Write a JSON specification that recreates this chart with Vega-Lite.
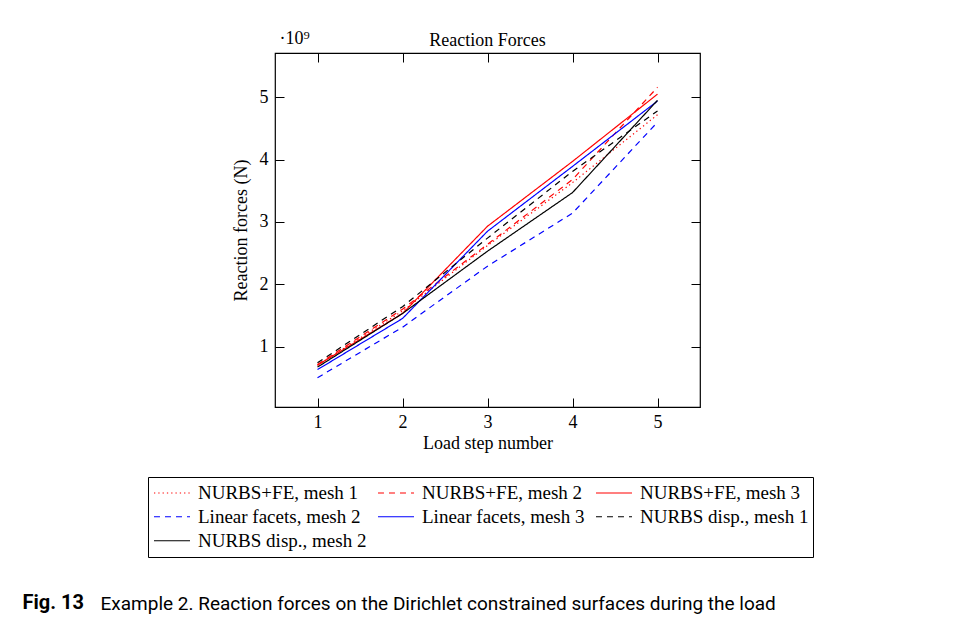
{
  "$schema": "https://vega.github.io/schema/vega-lite/v6.json",
  "width": 425,
  "height": 354,
  "autosize": {"type": "none"},
  "padding": {"left": 275, "top": 53, "right": 256, "bottom": 214},
  "background": "white",
  "title": {
    "text": "Reaction Forces",
    "frame": "group",
    "anchor": "middle",
    "font": "Liberation Serif",
    "fontSize": 18,
    "fontWeight": "normal",
    "color": "black",
    "offset": 6,
    "dy": 27
  },
  "config": {
    "view": {"stroke": "black", "strokeWidth": 1.2},
    "axis": {
      "labelFont": "Liberation Serif",
      "labelFontSize": 18,
      "labelColor": "black",
      "titleFont": "Liberation Serif",
      "titleFontSize": 18,
      "titleFontWeight": "normal",
      "titleColor": "black",
      "tickColor": "black",
      "tickWidth": 1,
      "domain": false,
      "grid": false
    },
    "legend": {
      "direction": "horizontal", "columns": 3, "strokeColor": "black", "padding": 4,
      "symbolType": "stroke", "symbolSize": 1300, "symbolStrokeWidth": 1.2, "symbolOffset": 1,
      "labelFont": "Liberation Serif", "labelFontSize": 19, "labelColor": "black", "labelLimit": 0,
      "columnPadding": 9, "rowPadding": 0, "clipHeight": 23.5, "labelOffset": 7
    }
  },
  "data": {
    "values": [
      {"step": 1, "series": "NURBS+FE, mesh 1", "force": 0.70},
      {"step": 2, "series": "NURBS+FE, mesh 1", "force": 1.57},
      {"step": 3, "series": "NURBS+FE, mesh 1", "force": 2.62},
      {"step": 4, "series": "NURBS+FE, mesh 1", "force": 3.63},
      {"step": 5, "series": "NURBS+FE, mesh 1", "force": 4.72},
      {"step": 1, "series": "NURBS+FE, mesh 2", "force": 0.71},
      {"step": 2, "series": "NURBS+FE, mesh 2", "force": 1.60},
      {"step": 3, "series": "NURBS+FE, mesh 2", "force": 2.64},
      {"step": 4, "series": "NURBS+FE, mesh 2", "force": 3.68},
      {"step": 5, "series": "NURBS+FE, mesh 2", "force": 5.16},
      {"step": 1, "series": "NURBS+FE, mesh 3", "force": 0.70},
      {"step": 2, "series": "NURBS+FE, mesh 3", "force": 1.53},
      {"step": 3, "series": "NURBS+FE, mesh 3", "force": 2.93},
      {"step": 4, "series": "NURBS+FE, mesh 3", "force": 3.97},
      {"step": 5, "series": "NURBS+FE, mesh 3", "force": 5.05},
      {"step": 1, "series": "Linear facets, mesh 2", "force": 0.50},
      {"step": 2, "series": "Linear facets, mesh 2", "force": 1.31},
      {"step": 3, "series": "Linear facets, mesh 2", "force": 2.29},
      {"step": 4, "series": "Linear facets, mesh 2", "force": 3.14},
      {"step": 5, "series": "Linear facets, mesh 2", "force": 4.60},
      {"step": 1, "series": "Linear facets, mesh 3", "force": 0.63},
      {"step": 2, "series": "Linear facets, mesh 3", "force": 1.45},
      {"step": 3, "series": "Linear facets, mesh 3", "force": 2.85},
      {"step": 4, "series": "Linear facets, mesh 3", "force": 3.89},
      {"step": 5, "series": "Linear facets, mesh 3", "force": 4.94},
      {"step": 1, "series": "NURBS disp., mesh 1", "force": 0.74},
      {"step": 2, "series": "NURBS disp., mesh 1", "force": 1.64},
      {"step": 3, "series": "NURBS disp., mesh 1", "force": 2.74},
      {"step": 4, "series": "NURBS disp., mesh 1", "force": 3.81},
      {"step": 5, "series": "NURBS disp., mesh 1", "force": 4.78},
      {"step": 1, "series": "NURBS disp., mesh 2", "force": 0.67},
      {"step": 2, "series": "NURBS disp., mesh 2", "force": 1.53},
      {"step": 3, "series": "NURBS disp., mesh 2", "force": 2.53},
      {"step": 4, "series": "NURBS disp., mesh 2", "force": 3.47},
      {"step": 5, "series": "NURBS disp., mesh 2", "force": 4.95}
    ]
  },
  "resolve": {"axis": {"x": "independent", "y": "independent"}},
  "layer": [
    {
      "mark": {"type": "line", "strokeWidth": 1.2, "clip": true},
      "encoding": {
        "x": {
          "field": "step", "type": "quantitative",
          "scale": {"domain": [0.5, 5.5], "nice": false, "zero": false},
          "axis": {"orient": "bottom", "values": [1, 2, 3, 4, 5], "tickSize": -9, "labelPadding": 15, "title": "Load step number", "titlePadding": 3}
        },
        "y": {
          "field": "force", "type": "quantitative",
          "scale": {"domain": [0.03, 5.71], "nice": false, "zero": false},
          "axis": {"orient": "left", "values": [1, 2, 3, 4, 5], "tickSize": -9, "labelPadding": 16, "title": "Reaction forces (N)", "titlePadding": 9}
        },
        "color": {
          "field": "series", "type": "nominal", "sort": null,
          "scale": {
            "domain": ["NURBS+FE, mesh 1", "NURBS+FE, mesh 2", "NURBS+FE, mesh 3", "Linear facets, mesh 2", "Linear facets, mesh 3", "NURBS disp., mesh 1", "NURBS disp., mesh 2"],
            "range": ["#ff0000", "#ff0000", "#ff0000", "#0000ff", "#0000ff", "#000000", "#000000"]
          },
          "legend": {
            "title": null, "orient": "none", "legendX": -127, "legendY": 424,
            "direction": "horizontal", "columns": 3, "strokeColor": "black", "padding": 4,
            "symbolType": "stroke", "symbolSize": 1300, "symbolStrokeWidth": 1.2, "symbolOffset": 1,
            "labelFont": "Liberation Serif", "labelFontSize": 19, "labelColor": "black", "labelLimit": 0,
            "columnPadding": 9, "rowPadding": 0, "clipHeight": 23.5, "labelOffset": 7
          }
        },
        "strokeDash": {
          "field": "series", "type": "nominal", "sort": null,
          "scale": {
            "domain": ["NURBS+FE, mesh 1", "NURBS+FE, mesh 2", "NURBS+FE, mesh 3", "Linear facets, mesh 2", "Linear facets, mesh 3", "NURBS disp., mesh 1", "NURBS disp., mesh 2"],
            "range": [[1.3, 3], [6, 5], [1, 0], [6, 5], [1, 0], [6, 5], [1, 0]]
          },
          "legend": {
            "title": null, "orient": "none", "legendX": -127, "legendY": 424,
            "direction": "horizontal", "columns": 3, "strokeColor": "black", "padding": 4,
            "symbolType": "stroke", "symbolSize": 1300, "symbolStrokeWidth": 1.2, "symbolOffset": 1,
            "labelFont": "Liberation Serif", "labelFontSize": 19, "labelColor": "black", "labelLimit": 0,
            "columnPadding": 9, "rowPadding": 0, "clipHeight": 23.5, "labelOffset": 7
          }
        }
      }
    },
    {
      "mark": {"type": "line", "opacity": 0},
      "encoding": {
        "x": {"field": "step", "type": "quantitative", "axis": {"orient": "top", "values": [1, 2, 3, 4, 5], "tickSize": -9, "labels": false, "title": null}},
        "y": {"field": "force", "type": "quantitative", "axis": {"orient": "right", "values": [1, 2, 3, 4, 5], "tickSize": -9, "labels": false, "title": "·10⁹", "titleAngle": 0, "titleAlign": "left", "titleBaseline": "alphabetic", "titleX": -421, "titleY": -10}},
        "detail": {"field": "series"}
      }
    },
    {
      "mark": {"type": "line", "opacity": 0},
      "encoding": {
        "x": {"field": "step", "type": "quantitative", "axis": {"orient": "bottom", "ticks": false, "labels": false, "title": "Example 2. Reaction forces on the Dirichlet constrained surfaces during the load", "titleFont": "Roboto", "titleFontSize": 19, "titleAlign": "left", "titleBaseline": "alphabetic", "titleX": -175, "titleY": 202}},
        "y": {"field": "force", "type": "quantitative", "axis": {"orient": "left", "ticks": false, "labels": false, "title": "Fig. 13", "titleFont": "Roboto", "titleFontWeight": "bold", "titleFontSize": 20, "titleAngle": 0, "titleAlign": "left", "titleBaseline": "alphabetic", "titleX": -253, "titleY": 555}},
        "detail": {"field": "series"}
      }
    }
  ]
}
